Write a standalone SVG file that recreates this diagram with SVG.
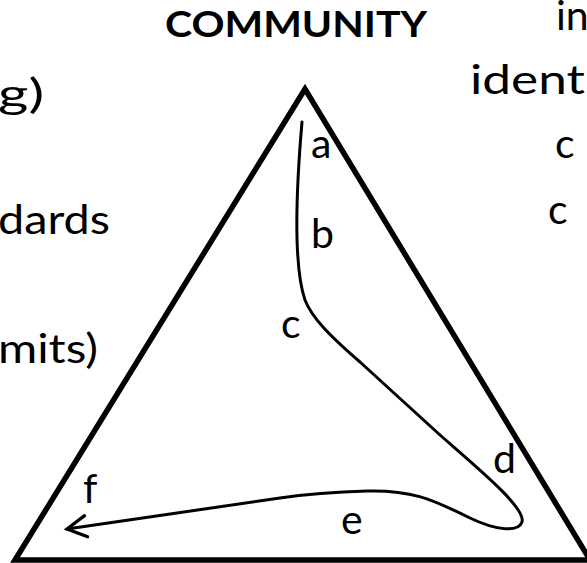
<svg xmlns="http://www.w3.org/2000/svg" width="587" height="563" viewBox="0 0 587 563">
<style>
.t{font-family:Lato,"Open Sans","DejaVu Sans",sans-serif;font-size:41px;fill:#000}
.b{font-weight:bold;font-size:37px}
.edge{fill:none;stroke:#000;stroke-width:5.5;stroke-linejoin:miter}
.path{fill:none;stroke:#000;stroke-width:3;stroke-linecap:round}
</style>
<defs>
<marker id="arrow" markerUnits="userSpaceOnUse" markerWidth="30" markerHeight="30" viewBox="-22 -14 26 28" refX="0" refY="0" orient="auto">
<path d="M -18 -10 L 0 0 L -18 10" fill="none" stroke="#000" stroke-width="3" stroke-linecap="round" stroke-linejoin="miter"/>
</marker>
</defs>
<g id="triangle">
<polygon class="edge" points="305,89 15,560 590,560"/>
</g>
<g id="title">
<text class="t b" x="165" y="37" textLength="262" lengthAdjust="spacingAndGlyphs">COMMUNITY</text>
</g>
<g id="side-left">
<text class="t" x="-2" y="108" textLength="46" lengthAdjust="spacingAndGlyphs">g)</text>
<text class="t" x="-2" y="234" textLength="112" lengthAdjust="spacingAndGlyphs">dards</text>
<text class="t" x="-2" y="363" textLength="100" lengthAdjust="spacingAndGlyphs">mits)</text>
</g>
<g id="side-right">
<text class="t" x="556" y="30">in</text>
<text class="t" x="470" y="94" textLength="115" lengthAdjust="spacingAndGlyphs">ident</text>
<text class="t" x="555" y="158">c</text>
<text class="t" x="548" y="224">c</text>
</g>
<g id="connectors">
<path class="path" marker-end="url(#arrow)" d="M 302 122 C 297 180, 292 262, 305 300 C 312 318, 330 336, 360 362 L 440 435 C 480 470, 526 508, 522 522 C 518 533, 495 530, 470 518 C 430 498, 410 490, 367 491 C 330 492, 300 495, 280 498 L 67 529"/>
</g>
<g id="labels">
<text class="t" x="311" y="158">a</text>
<text class="t" x="311" y="248">b</text>
<text class="t" x="281" y="338">c</text>
<text class="t" x="493" y="473">d</text>
<text class="t" x="341" y="534">e</text>
<text class="t" x="83" y="503">f</text>
</g>
</svg>
